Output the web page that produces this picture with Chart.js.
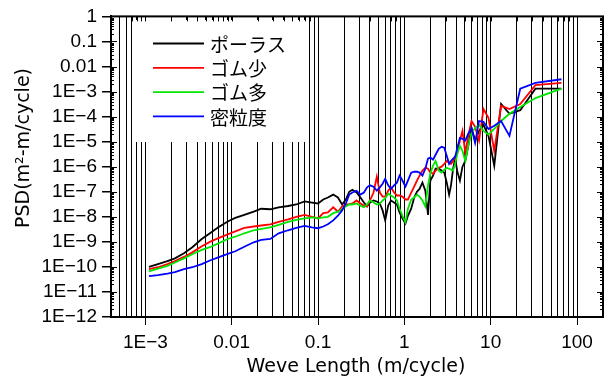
<!DOCTYPE html>
<html>
<head>
<meta charset="utf-8">
<script src="https://cdn.jsdelivr.net/npm/chart.js@4.4.1/dist/chart.umd.min.js"></script>
<style>
  html, body { margin: 0; padding: 0; background: #fff; }
</style>
</head>
<body>
<canvas id="psdChart" width="615" height="376"></canvas>
<script>
// wavelength (m/cycle), shared by all four series
const waveLength = [
  0.0011, 0.0014, 0.0018, 0.0022, 0.0028, 0.0035, 0.0045, 0.0056, 0.007, 0.009,
  0.011, 0.014, 0.018, 0.022, 0.028, 0.035, 0.045, 0.056, 0.07, 0.085,
  0.1, 0.115, 0.13, 0.15, 0.17, 0.19, 0.21, 0.23, 0.25, 0.28,
  0.31, 0.34, 0.37, 0.4, 0.44, 0.48, 0.52, 0.56, 0.6, 0.65,
  0.7, 0.76, 0.82, 0.88, 0.95, 1.03, 1.1, 1.2, 1.3, 1.4,
  1.5, 1.62, 1.75, 1.88, 2.0, 2.15, 2.3, 2.5, 2.7, 2.9,
  3.1, 3.3, 3.47, 3.67, 3.88, 4.13, 4.4, 4.71, 5.08, 5.5,
  6.0, 6.6, 7.33, 8.25, 9.43, 11, 13.2, 16.5, 22, 33, 66
];

// PSD (m2-m/cycle)
const porous = [
  1.0e-10, 1.3e-10, 1.7e-10, 2.2e-10, 3.5e-10, 6.1e-10, 1.3e-9, 2.2e-9, 3.8e-9, 6.5e-9,
  9.0e-9, 1.2e-8, 1.6e-8, 2.1e-8, 2.0e-8, 2.4e-8, 2.7e-8, 3.1e-8, 4.1e-8, 3.7e-8,
  3.4e-8, 4.9e-8, 5.9e-8, 7.7e-8, 5.9e-8, 3.1e-8, 4.9e-8, 1.0e-7, 1.2e-7, 9.3e-8,
  5.9e-8, 3.7e-8, 2.6e-8, 3.7e-8, 4.5e-8, 4.1e-8, 3.4e-8, 1.8e-8, 7.2e-9, 2.8e-8,
  4.5e-8, 3.7e-8, 3.1e-8, 1.5e-8, 8.6e-9, 5.4e-9, 1.1e-8, 2.1e-8, 5.9e-8, 1.0e-7,
  1.3e-7, 2.3e-7, 1.1e-7, 1.2e-8, 2.8e-7, 4.4e-7, 8.3e-7, 8.3e-7, 7.0e-7, 5.8e-7,
  2.3e-7, 7.7e-8, 1.8e-7, 8.3e-7, 2.1e-6, 5.8e-7, 2.8e-7, 1.0e-6, 1.7e-6, 6.8e-6,
  3.5e-5, 1.1e-5, 2.7e-5, 4.7e-5, 1.7e-5, 1.1e-6, 3.2e-4, 1.3e-4, 1.8e-4, 1.3e-3, 1.3e-3
];
const rubberLow = [
  8.1e-11, 9.7e-11, 1.3e-10, 1.7e-10, 2.5e-10, 3.8e-10, 6.7e-10, 1.0e-9, 1.4e-9, 2.0e-9,
  2.6e-9, 3.6e-9, 4.1e-9, 4.5e-9, 5.0e-9, 6.3e-9, 7.9e-9, 1.0e-8, 1.2e-8, 1.0e-8,
  8.6e-9, 1.4e-8, 1.5e-8, 2.4e-8, 1.6e-8, 2.6e-8, 3.1e-8, 3.2e-8, 3.4e-8, 4.5e-8,
  3.4e-8, 2.8e-8, 2.6e-8, 4.5e-8, 9.3e-8, 4.0e-7, 9.3e-8, 6.4e-8, 6.4e-8, 1.1e-7,
  1.5e-7, 9.3e-8, 7.1e-8, 7.1e-8, 6.4e-8, 4.9e-8, 4.9e-8, 9.3e-8, 1.6e-7, 2.8e-7,
  4.4e-7, 7.0e-7, 9.1e-7, 8.3e-7, 5.8e-7, 5.3e-7, 7.0e-7, 9.1e-7, 1.0e-6, 1.3e-6,
  1.7e-6, 1.4e-6, 1.3e-6, 1.7e-6, 2.5e-6, 3.6e-6, 1.1e-5, 2.7e-5, 3.6e-6, 1.7e-5,
  6.7e-5, 3.9e-5, 1.1e-5, 2.0e-4, 8.9e-5, 4.3e-6, 2.7e-4, 2.0e-4, 3.2e-4, 1.8e-3, 2.2e-3
];
const rubberHigh = [
  6.6e-11, 8.5e-11, 1.1e-10, 1.5e-10, 2.2e-10, 3.2e-10, 4.8e-10, 6.1e-10, 8.7e-10, 1.3e-9,
  1.6e-9, 2.2e-9, 2.9e-9, 3.3e-9, 3.8e-9, 4.8e-9, 6.3e-9, 7.5e-9, 8.6e-9, 9.4e-9,
  8.6e-9, 9.4e-9, 1.0e-8, 1.4e-8, 1.6e-8, 2.0e-8, 2.6e-8, 3.1e-8, 3.1e-8, 3.4e-8,
  2.8e-8, 2.4e-8, 3.1e-8, 4.5e-8, 3.7e-8, 3.1e-8, 3.4e-8, 4.5e-8, 5.4e-8, 8.5e-8,
  7.1e-8, 5.9e-8, 4.5e-8, 2.1e-8, 1.1e-8, 6.0e-9, 2.1e-8, 4.9e-8, 5.9e-8, 7.7e-8,
  6.4e-8, 4.5e-8, 2.6e-8, 1.8e-7, 5.3e-7, 1.1e-6, 1.7e-6, 7.0e-7, 5.8e-7, 7.6e-7,
  9.1e-7, 8.3e-7, 7.6e-7, 7.0e-7, 1.3e-6, 3.6e-6, 6.8e-6, 4.3e-6, 1.7e-6, 6.8e-6,
  2.2e-5, 3.5e-5, 4.7e-5, 2.7e-5, 1.9e-5, 3.2e-5, 6.7e-5, 1.3e-4, 2.4e-4, 5.5e-4, 1.3e-3
];
const dense = [
  4.3e-11, 4.7e-11, 5.4e-11, 6.2e-11, 8.1e-11, 9.7e-11, 1.3e-10, 1.8e-10, 2.4e-10, 3.3e-10,
  4.2e-10, 6.4e-10, 9.6e-10, 1.2e-9, 1.3e-9, 2.2e-9, 2.9e-9, 3.6e-9, 4.3e-9, 3.8e-9,
  3.5e-9, 4.1e-9, 5.0e-9, 7.2e-9, 1.1e-8, 1.8e-8, 3.4e-8, 7.7e-8, 9.3e-8, 1.1e-7,
  7.7e-8, 9.3e-8, 1.5e-7, 1.8e-7, 1.6e-7, 1.1e-7, 1.5e-7, 2.1e-7, 3.3e-7, 1.8e-7,
  1.3e-7, 1.8e-7, 2.3e-7, 4.4e-7, 2.8e-7, 1.6e-7, 2.8e-7, 5.8e-7, 6.3e-7, 6.3e-7,
  5.8e-7, 4.4e-7, 8.3e-7, 2.1e-6, 2.3e-6, 1.9e-6, 3.0e-6, 5.2e-6, 6.2e-6, 5.7e-6,
  2.7e-6, 1.3e-6, 1.7e-6, 2.1e-6, 2.5e-6, 6.2e-6, 1.4e-5, 1.3e-5, 1.1e-5, 2.1e-5,
  3.5e-5, 9.0e-6, 6.7e-5, 6.2e-5, 3.2e-5, 4.3e-5, 6.7e-5, 1.7e-5, 1.3e-3, 2.2e-3, 3.1e-3
];

const seriesNames = ["ポーラス", "ゴム少", "ゴム多", "密粒度"];
const seriesColors = ["#000000", "#ff0000", "#00e600", "#0000ff"];

const xMajorTicks = [0.001, 0.01, 0.1, 1, 10, 100];
const xMajorLabels = ["1E\u22123", "0.01", "0.1", "1", "10", "100"];
const yMajorTicks = [1, 0.1, 0.01, 1e-3, 1e-4, 1e-5, 1e-6, 1e-7, 1e-8, 1e-9, 1e-10, 1e-11, 1e-12];
const yMajorLabels = ["1", "0.1", "0.01", "1E\u22123", "1E\u22124", "1E\u22125", "1E\u22126",
  "1E\u22127", "1E\u22128", "1E\u22129", "1E\u221210", "1E\u221211", "1E\u221212"];

const xTitle = "Weve Length (m/cycle)";
const yTitle = "PSD(m\u00b2-m/cycle)";

function sameLog(a, b) {
  return Math.abs(Math.log10(a) - Math.log10(b)) < 1e-6;
}
function majorLabel(value, ticks, labels) {
  const i = ticks.findIndex(t => sameLog(t, value));
  return i < 0 ? "" : labels[i];
}
// 1..9 x 10^n between min and max
function logTicks(min, max) {
  const out = [];
  for (let e = Math.floor(Math.log10(min)); e <= Math.ceil(Math.log10(max)); e++) {
    for (let m = 1; m <= 9; m++) {
      const v = m * Math.pow(10, e);
      if (v >= min * 0.999 && v <= max * 1.001) out.push({ value: v });
    }
  }
  return out;
}

const series = [porous, rubberLow, rubberHigh, dense];
const datasets = series.map((vals, i) => ({
  label: seriesNames[i],
  data: waveLength.map((w, j) => ({ x: w, y: vals[j] })),
  borderColor: seriesColors[i],
  backgroundColor: seriesColors[i],
  borderWidth: 1.8,
  pointRadius: 0,
  tension: 0,
  order: 4 - i
}));

// legend box, axis titles, inward ticks and frame
const decor = {
  id: "decor",
  afterDraw(chart) {
    const { ctx, chartArea: a, scales: { x, y } } = chart;
    ctx.save();

    // legend
    ctx.fillStyle = "#fff";
    ctx.fillRect(134, 20, 173, 122);
    ctx.font = "19px 'Noto Sans CJK JP', sans-serif";
    ctx.textBaseline = "middle";
    seriesNames.forEach((name, i) => {
      const ly = 43.5 + i * 24.3;
      ctx.strokeStyle = seriesColors[i];
      ctx.lineWidth = 1.8;
      ctx.beginPath();
      ctx.moveTo(153, ly);
      ctx.lineTo(204, ly);
      ctx.stroke();
      ctx.fillStyle = "#000";
      ctx.fillText(name, 210, ly + 1);
    });

    // inward ticks
    ctx.strokeStyle = "#000";
    ctx.lineWidth = 1;
    ctx.beginPath();
    x.ticks.forEach(t => {
      const px = Math.round(x.getPixelForValue(t.value)) + 0.5;
      ctx.moveTo(px, a.top);
      ctx.lineTo(px, a.top + 5);
    });
    y.ticks.forEach(t => {
      const py = Math.round(y.getPixelForValue(t.value)) + 0.5;
      const len = majorLabel(t.value, yMajorTicks, yMajorLabels) ? 6 : 3;
      ctx.moveTo(a.left, py);
      ctx.lineTo(a.left + len, py);
      ctx.moveTo(a.right, py);
      ctx.lineTo(a.right - len, py);
    });
    ctx.stroke();

    // frame
    ctx.lineWidth = 2;
    ctx.strokeRect(a.left, a.top, a.right - a.left, a.bottom - a.top);

    // axis titles
    ctx.fillStyle = "#000";
    ctx.font = "19px 'DejaVu Sans', sans-serif";
    ctx.textAlign = "center";
    ctx.textBaseline = "middle";
    ctx.fillText(xTitle, 356, 367);
    ctx.translate(24, 148);
    ctx.rotate(-Math.PI / 2);
    ctx.fillText(yTitle, 0, 0);
    ctx.restore();
  }
};

Chart.defaults.font.family = "'Liberation Sans', Arial, sans-serif";
Chart.defaults.font.size = 19;
Chart.defaults.color = "#000";

new Chart(document.getElementById("psdChart"), {
  type: "line",
  data: { datasets: datasets },
  options: {
    responsive: false,
    animation: false,
    devicePixelRatio: 1,
    layout: { padding: { left: 0, top: 15, right: 12, bottom: 0 } },
    plugins: { legend: { display: false }, tooltip: { enabled: false } },
    scales: {
      x: {
        type: "logarithmic",
        min: 4e-4,
        max: 200,
        afterBuildTicks: s => { s.ticks = logTicks(s.min, s.max); },
        afterFit: s => { s.height = 59; },
        border: { display: true, color: "#000", width: 2 },
        grid: {
          color: "#000",
          lineWidth: 1,
          tickLength: 8,
          tickColor: c => majorLabel(c.tick.value, xMajorTicks, xMajorLabels) ? "#000" : "rgba(0,0,0,0)"
        },
        ticks: {
          autoSkip: false,
          maxRotation: 0,
          padding: 6,
          callback: v => majorLabel(v, xMajorTicks, xMajorLabels)
        }
      },
      y: {
        type: "logarithmic",
        min: 1e-12,
        max: 1,
        afterBuildTicks: s => { s.ticks = logTicks(s.min, s.max); },
        afterFit: s => { s.width = 111; },
        border: { display: true, color: "#000", width: 2 },
        grid: {
          drawOnChartArea: false,
          lineWidth: 1.5,
          tickLength: 9,
          tickColor: c => majorLabel(c.tick.value, yMajorTicks, yMajorLabels) ? "#000" : "rgba(0,0,0,0)"
        },
        ticks: {
          autoSkip: false,
          padding: 5,
          callback: v => majorLabel(v, yMajorTicks, yMajorLabels)
        }
      }
    }
  },
  plugins: [decor]
});
</script>
</body>
</html>
